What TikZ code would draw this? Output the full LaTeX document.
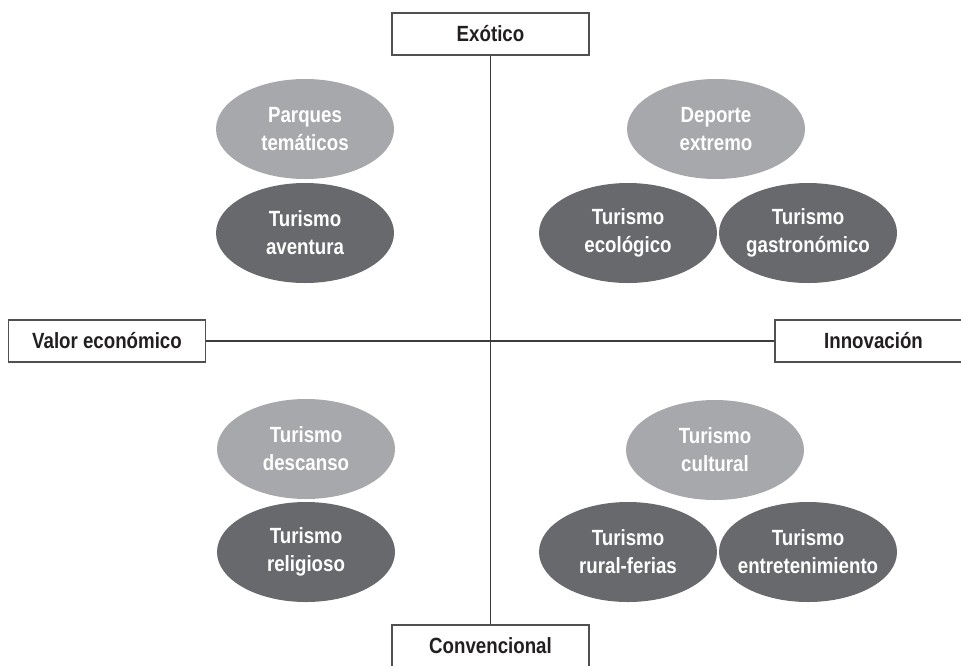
\documentclass[tikz,border=0pt]{standalone}
\usepackage{fontspec}
\setmainfont{Liberation Sans}[FakeStretch=0.85]
\usetikzlibrary{shapes.geometric}
\definecolor{lightell}{RGB}{167,168,171}
\definecolor{darkell}{RGB}{104,105,108}
\definecolor{linecol}{RGB}{60,60,60}
\definecolor{boxtext}{RGB}{35,31,32}
\tikzset{
  elltext/.style={text=white, align=center, inner sep=0pt,
    font=\fontsize{11}{14}\selectfont\bfseries},
  ell/.style={ellipse, minimum width=89pt, minimum height=50pt, inner sep=0pt},
  lightell/.style={ell, fill=lightell},
  darkell/.style={ell, fill=darkell},
  axisbox/.style={draw=linecol!90, line width=0.8pt, fill=white, minimum width=98.5pt,
    minimum height=21pt, inner sep=0pt, text=boxtext,
    font=\fontsize{11}{14}\selectfont\bfseries},
  axisline/.style={draw=linecol, line width=0.6pt}
}
\begin{document}
\begin{tikzpicture}[x=0.5pt,y=-0.5pt]
\useasboundingbox (0,0) rectangle (961,665);
% axis boxes
\node[axisbox] (exo) at (490.5,34) {Exótico};
\node[axisbox] (conv) at (490.5,646) {Convencional};
\node[axisbox] (valor) at (107,341) {Valor económico};
\node[axisbox] (inno) at (873.5,341) {Innovación};
% axes
\draw[axisline] (exo.south) -- (conv.north);
\draw[axisline] (valor.east) -- (inno.west);
% top-left
\node[lightell, label={[elltext]center:Parques\\temáticos}] (parques) at (305,129) {};
\node[darkell, label={[elltext]center:Turismo\\aventura}] (aventura) at (305,233) {};
% top-right
\node[lightell, label={[elltext]center:Deporte\\extremo}] (deporte) at (716,129) {};
\node[darkell, label={[elltext]center:Turismo\\ecológico}] (eco) at (628,233) {};
\node[darkell, label={[elltext]center:Turismo\\gastronómico}] (gastro) at (808,233) {};
% bottom-left
\node[lightell, label={[elltext]center:Turismo\\descanso}] (descanso) at (306,449) {};
\node[darkell, label={[elltext]center:Turismo\\religioso}] (religioso) at (306,552) {};
% bottom-right
\node[lightell, label={[elltext]center:Turismo\\cultural}] (cultural) at (715,450) {};
\node[darkell, label={[elltext]center:Turismo\\rural-ferias}] (rural) at (628,552) {};
\node[darkell, label={[elltext]center:Turismo\\entretenimiento}] (entre) at (808,552) {};
\end{tikzpicture}
\end{document}
